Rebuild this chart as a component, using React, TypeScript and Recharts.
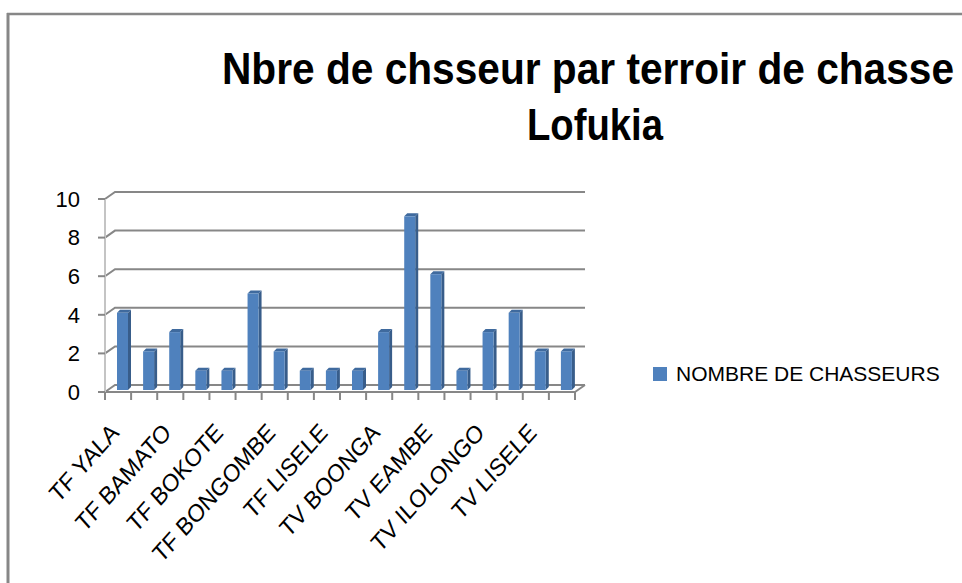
import React from 'react';
import { BarChart, Bar, XAxis, YAxis, CartesianGrid } from 'recharts';

const categories = [
  'TF YALA', 'Terroir 2', 'TF BAMATO', 'Terroir 4', 'TF BOKOTE', 'Terroir 6',
  'TF BONGOMBE', 'Terroir 8', 'TF LISELE', 'Terroir 10', 'TV BOONGA', 'Terroir 12',
  'TV EAMBE', 'Terroir 14', 'TV ILOLONGO', 'Terroir 16', 'TV LISELE', 'Terroir 18',
];
const chasseurs = [4, 2, 3, 1, 1, 5, 2, 1, 1, 1, 3, 9, 6, 1, 3, 4, 2, 2];
const yTicks = [0, 2, 4, 6, 8, 10];
const seriesName = 'NOMBRE DE CHASSEURS';
const titleLines = ['Nbre de chsseur par terroir de chasse', 'Lofukia'];

const data = categories.map((name, i) => ({ name, value: chasseurs[i] }));

const W = 962;
const H = 583;
const PLOT_LEFT = 105;
const PLOT_RIGHT = 575;
const PLOT_TOP = 199;
const PLOT_BOTTOM = 392;
const DEPTH_X = 10;
const DEPTH_Y = 7;
const GRID = '#878787';
const BLUE = '#4f81bd';
const FONT = '"Liberation Sans", Arial, sans-serif';
const BAND = (PLOT_RIGHT - PLOT_LEFT) / categories.length;

function Bar3D(props: any) {
  const { x, y, width, height } = props;
  if (height == null || height <= 0) return null;
  const dx = 4;
  const dy = -2;
  const s = 3;
  const fx = x + dx;
  const fy = y + dy;
  const fb = y + height + dy;
  return (
    <g>
      <polygon
        points={`${fx + width},${fy} ${fx + width + s},${fy - s} ${fx + width + s},${fb - s} ${fx + width},${fb}`}
        fill="#385d8a"
      />
      <polygon
        points={`${fx},${fy} ${fx + s},${fy - s} ${fx + width + s},${fy - s} ${fx + width},${fy}`}
        fill="#3f6a9e"
      />
      <rect x={fx} y={fy} width={width} height={height} fill={BLUE} />
    </g>
  );
}

const gridLine = (p: any) => (
  <path
    key={p.key ?? `g-${p.index}`}
    d={`M${p.x1},${p.y1} L${p.x1 + DEPTH_X},${p.y1 - DEPTH_Y} L${p.x2 + DEPTH_X},${p.y1 - DEPTH_Y}`}
    stroke={GRID}
    strokeWidth={2}
    fill="none"
  />
);

function XTick(props: any) {
  const { x, payload, index } = props;
  const i = payload?.index ?? index;
  const left = x - BAND / 2;
  const tx = x + 2;
  const ty = PLOT_BOTTOM + 42;
  return (
    <g>
      <line x1={left} y1={PLOT_BOTTOM} x2={left} y2={PLOT_BOTTOM + 8} stroke={GRID} strokeWidth={2} />
      {i === categories.length - 1 && (
        <line x1={x + BAND / 2} y1={PLOT_BOTTOM} x2={x + BAND / 2} y2={PLOT_BOTTOM + 8} stroke={GRID} strokeWidth={2} />
      )}
      {i % 2 === 0 && (
        <text
          x={0}
          y={0}
          transform={`translate(${tx} ${ty}) scale(1 1.13) rotate(-45)`}
          textAnchor="end"
          fontSize={22}
          fontFamily={FONT}
          fill="#000"
        >
          {payload.value}
        </text>
      )}
    </g>
  );
}

export default function App() {
  return (
    <div style={{ position: 'absolute', left: 0, top: 0, width: W, height: H, background: '#fff', overflow: 'hidden' }}>
      <BarChart
        width={W}
        height={H}
        data={data}
        margin={{ top: PLOT_TOP, right: W - PLOT_RIGHT, bottom: H - PLOT_BOTTOM - 60, left: 0 }}
        barSize={11}
      >
        <CartesianGrid vertical={false} horizontal={gridLine} />
        <XAxis
          dataKey="name"
          interval={0}
          tickLine={false}
          axisLine={{ stroke: GRID, strokeWidth: 2 }}
          height={60}
          tick={<XTick />}
        />
        <YAxis
          width={PLOT_LEFT}
          domain={[0, 10]}
          ticks={yTicks}
          tickSize={7}
          tickMargin={18}
          tickLine={{ stroke: GRID, strokeWidth: 2 }}
          axisLine={{ stroke: '#c4c4c4', strokeWidth: 2 }}
          tick={{ fontSize: 22, fill: '#000', fontFamily: FONT }}
        />
        <Bar dataKey="value" name={seriesName} isAnimationActive={false} shape={<Bar3D />} />
      </BarChart>
      <svg
        width={W}
        height={H}
        style={{ position: 'absolute', left: 0, top: 0, pointerEvents: 'none' }}
      >
        <line x1={7} y1={14} x2={W} y2={14} stroke={GRID} strokeWidth={2.5} />
        <line x1={8} y1={13} x2={8} y2={H} stroke={GRID} strokeWidth={3} />
        <line x1={PLOT_RIGHT} y1={PLOT_BOTTOM} x2={PLOT_RIGHT + DEPTH_X} y2={PLOT_BOTTOM - DEPTH_Y} stroke={GRID} strokeWidth={2} />
        <text
          x={222}
          y={84}
          fontSize={44}
          fontWeight="bold"
          fontFamily={FONT}
          textLength={732}
          lengthAdjust="spacingAndGlyphs"
          fill="#000"
        >
          {titleLines[0]}
        </text>
        <text
          x={527}
          y={140}
          fontSize={44}
          fontWeight="bold"
          fontFamily={FONT}
          textLength={136}
          lengthAdjust="spacingAndGlyphs"
          fill="#000"
        >
          {titleLines[1]}
        </text>
        <rect x={653} y={367} width={14} height={14} fill={BLUE} />
        <text x={676} y={381} fontSize={21} fontFamily={FONT} fill="#000">
          {seriesName}
        </text>
      </svg>
    </div>
  );
}
